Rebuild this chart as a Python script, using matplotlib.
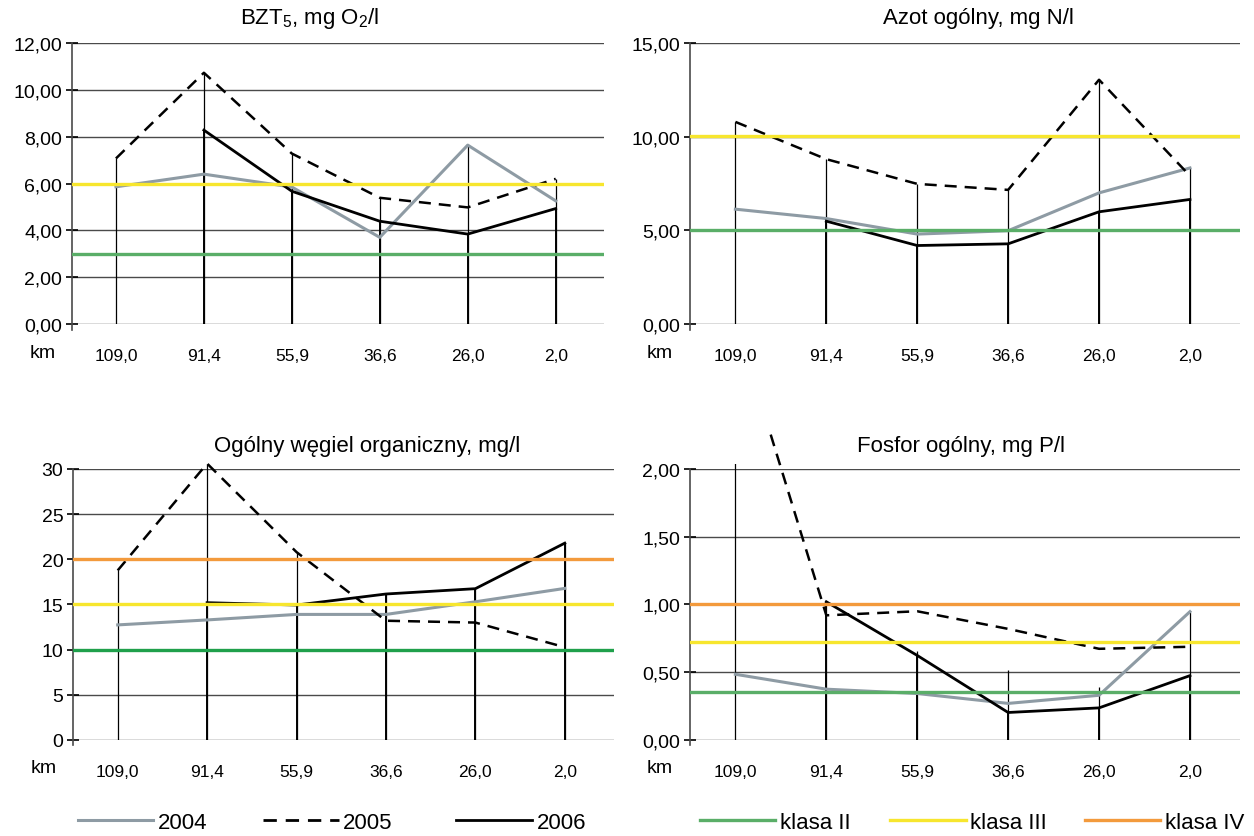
import matplotlib
matplotlib.use("Agg")
import matplotlib.pyplot as plt
from matplotlib.patches import Rectangle
from matplotlib.lines import Line2D
import numpy as np

plt.rcParams['font.family'] = ['Liberation Sans', 'DejaVu Sans']
plt.rcParams['mathtext.fontset'] = 'custom'
plt.rcParams['mathtext.rm'] = 'Liberation Sans'
plt.rcParams['mathtext.default'] = 'regular'

nan = np.nan
km = ['109,0', '91,4', '55,9', '36,6', '26,0', '2,0']
years = ['2004', '2005', '2006']
klasy = ['klasa II', 'klasa III', 'klasa IV']

# BZT5
bzt_2004 = [5.86, 6.40, 5.85, 3.70, 7.64, 5.26]
bzt_2005 = [7.07, 10.73, 7.28, 5.39, 4.98, 6.20]
bzt_2006 = [nan, 8.28, 5.67, 4.39, 3.84, 4.93]
bzt_drop = [7.07, 10.73, 7.28, 5.39, 7.64, 6.20]
bzt_klasy = [3.0, 6.0, nan]
bzt_ticks = [0, 2, 4, 6, 8, 10, 12]

# Azot ogolny
azot_2004 = [6.13, 5.63, 4.80, 4.98, 7.00, 8.33]
azot_2005 = [10.79, 8.80, 7.48, 7.16, 13.04, 7.91]
azot_2006 = [nan, 5.49, 4.19, 4.28, 5.99, 6.65]
azot_drop = [10.79, 8.80, 7.48, 7.16, 13.04, 8.33]
azot_klasy = [5.0, 10.05, nan]
azot_ticks = [0, 5, 10, 15]

# Ogolny wegiel organiczny
ogw_2004 = [12.74, 13.29, 13.9, 13.9, 15.3, 16.78]
ogw_2005 = [18.77, 30.6, 20.8, 13.2, 13.0, 10.27]
ogw_2006 = [nan, 15.2, 14.94, 16.16, 16.75, 21.79]
ogw_drop = [18.77, 30.6, 20.8, 16.16, 16.75, 21.79]
ogw_klasy = [10.0, 15.0, 20.0]
ogw_ticks = [0, 5, 10, 15, 20, 25, 30]

# Fosfor ogolny
fos_2004 = [0.485, 0.375, 0.343, 0.27, 0.33, 0.947]
fos_2005 = [3.10, 0.92, 0.95, 0.82, 0.673, 0.688]
fos_2006 = [nan, 1.02, 0.624, 0.203, 0.237, 0.475]
fos_drop = [3.10, 1.02, 0.66, 0.52, 0.39, 0.947]
fos_klasy = [0.355, 0.722, 1.0]
fos_ticks = [0, 0.5, 1.0, 1.5, 2.0]

c2004 = '#8e9ba4'
c_klasy = ['#5aae68', '#f7e62e', '#f39a3c']
c_klasy_ogw = ['#1fa04b', '#f7e62e', '#f39a3c']
grid_c = '#4a4a4a'
dash = (0, (4.8, 3.2))

fig = plt.figure(figsize=(12.54, 8.37), dpi=100)

panels = [
    ([0.0574, 0.6117, 0.4243, 0.3357], 'BZT$_5$, mg O$_2$/l', 0.247, 0.978,
     bzt_2004, bzt_2005, bzt_2006, bzt_drop, bzt_klasy, c_klasy, bzt_ticks, '{:.2f}'),
    ([0.5502, 0.6117, 0.4386, 0.3357], 'Azot ogólny, mg N/l', 0.78, 0.978,
     azot_2004, azot_2005, azot_2006, azot_drop, azot_klasy, c_klasy, azot_ticks, '{:.2f}'),
    ([0.0582, 0.1147, 0.4314, 0.3238], 'Ogólny węgiel organiczny, mg/l', 0.293, 0.466,
     ogw_2004, ogw_2005, ogw_2006, ogw_drop, ogw_klasy, c_klasy_ogw, ogw_ticks, '{:.0f}'),
    ([0.5502, 0.1147, 0.4386, 0.3238], 'Fosfor ogólny, mg P/l', 0.766, 0.466,
     fos_2004, fos_2005, fos_2006, fos_drop, fos_klasy, c_klasy, fos_ticks, '{:.2f}'),
]

for pos, title, tx, ty, s04, s05, s06, drop, kl, kcol, ticks, fmt in panels:
    ax = fig.add_axes(pos)
    x = np.arange(len(km))
    ax.set_xlim(-0.5, len(km) - 0.45)
    ax.set_ylim(ticks[0], ticks[-1])

    # drop lines to the axis
    dl = ax.vlines(x, 0, drop, color='black', lw=0.9, zorder=2)
    dl.set_clip_path(Rectangle((0, 0), 1, 1.02, transform=ax.transAxes))
    d06 = np.array(s06, dtype=float)
    ok = ~np.isnan(d06)
    ax.vlines(x[ok], 0, d06[ok], color='black', lw=1.4, zorder=2)

    ax.plot(x, s04, color=c2004, lw=2.2, zorder=3)
    l05, = ax.plot(x, s05, color='black', lw=1.8, linestyle=dash, zorder=3)
    ax.plot(x, s06, color='black', lw=2.0, zorder=3)
    # 2005 line may go above the plot area
    l05.set_clip_path(Rectangle((0, 0), 1, 1.15, transform=ax.transAxes))

    for val, col in zip(kl, kcol):
        if not np.isnan(val):
            ax.axhline(val, color=col, lw=2.4, zorder=4)

    ax.set_yticks(ticks)
    ax.set_yticklabels([fmt.format(t).replace('.', ',') for t in ticks], fontsize=14)
    ax.yaxis.grid(True, color=grid_c, lw=1.0, zorder=1)
    ax.set_axisbelow(True)
    ax.tick_params(axis='y', direction='inout', length=8, width=1.2, pad=3)
    ax.set_xticks(x)
    ax.set_xticklabels(km, fontsize=12.5)
    ax.tick_params(axis='x', length=0, pad=17)
    for s in ['top', 'right', 'bottom']:
        ax.spines[s].set_visible(False)
    ax.spines['left'].set_color(grid_c)
    ax.spines['left'].set_linewidth(1.2)
    ax.spines['left'].set_bounds(ticks[0] - (ticks[-1] - ticks[0]) * 0.02, ticks[-1])
    ax.text(-0.055, -0.1, 'km', transform=ax.transAxes, fontsize=14,
            ha='center', va='center')
    fig.text(tx, ty, title, fontsize=16, ha='center', va='center')

h_years = [Line2D([], [], color=c2004, lw=2.2),
           Line2D([], [], color='black', lw=2.0, linestyle=dash),
           Line2D([], [], color='black', lw=2.0)]
h_klasy = [Line2D([], [], color=c, lw=2.4) for c in c_klasy]

leg_x = [0.062, 0.21, 0.364, 0.558, 0.71, 0.865]
for h, lab, lx in zip(h_years + h_klasy, years + klasy, leg_x):
    fig.legend([h], [lab], loc='center left', bbox_to_anchor=(lx, 0.016),
               frameon=False, fontsize=16, handlelength=3.4,
               handletextpad=0.2, borderpad=0, borderaxespad=0)

fig.savefig('out.png', dpi=100)
